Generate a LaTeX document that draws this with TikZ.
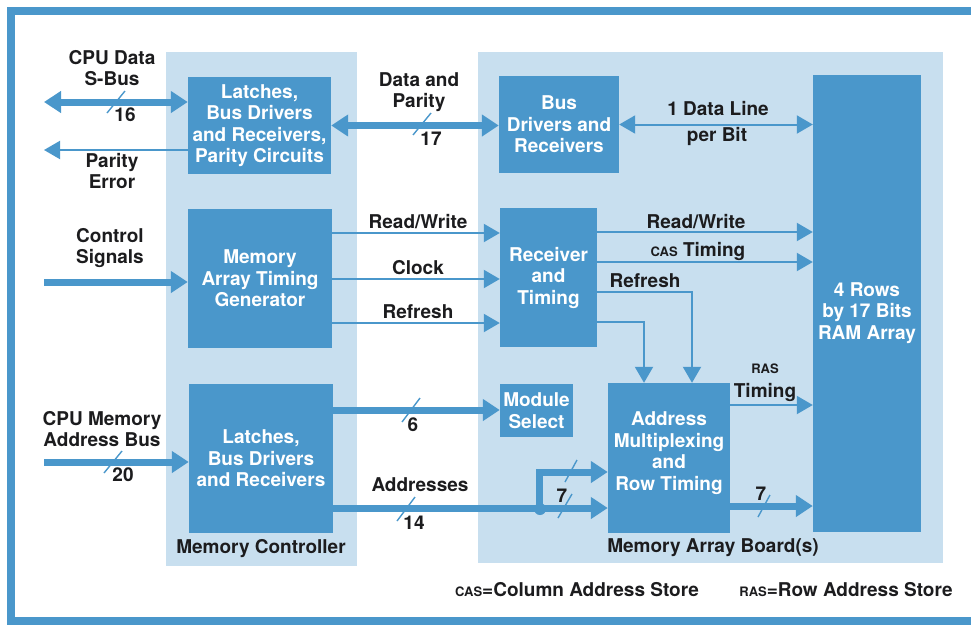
\documentclass[tikz,border=0pt]{standalone}
\usepackage{fontspec}
\setmainfont{TeX Gyre Heros}
\usepackage{tikz}
\usetikzlibrary{calc}
\usetikzlibrary{arrows.meta}
\usetikzlibrary{positioning}
\definecolor{BoxBlue}{RGB}{74,151,203}
\definecolor{PanelBlue}{RGB}{200,223,239}
\definecolor{InkBlack}{RGB}{28,28,30}
\newcommand{\SmCaps}[1]{{\fontsize{13}{14}\selectfont #1}}

\begin{document}
\begin{tikzpicture}[
	x=1pt, y=-1pt,
	Frame/.style={draw=BoxBlue,line width=8pt},
	Panel/.style={fill=PanelBlue,draw=none},
	BlockBox/.style={fill=BoxBlue,draw=none,inner sep=0pt,text=white,align=center,
		font=\bfseries\fontsize{19}{21.5}\selectfont},
	BlockText/.style={text=white,align=center,inner sep=0pt,
		font=\bfseries\fontsize{19}{21.5}\selectfont},
	Lbl/.style={text=InkBlack,align=center,inner sep=0pt,
		font=\bfseries\fontsize{19}{21.5}\selectfont},
	Bus/.style={draw=BoxBlue,line width=7pt,-{Triangle[length=17pt,width=21pt]}},
	BiBus/.style={draw=BoxBlue,line width=7pt,{Triangle[length=17pt,width=21pt]}-{Triangle[length=17pt,width=21pt]}},
	Wire/.style={draw=BoxBlue,line width=2pt,-{Triangle[length=16pt,width=18pt]}},
	BiWire/.style={draw=BoxBlue,line width=2pt,{Triangle[length=16pt,width=18pt]}-{Triangle[length=16pt,width=18pt]}},
	Slash/.style={draw=BoxBlue,line width=1.4pt}
	]
	\useasboundingbox (0,0) rectangle (971,624);
	
	% outer frame and the two boards
	\draw[Frame] (975,11) -- (11,11) -- (11,621) -- (975,621);
	\fill[Panel] (166,52) rectangle (357,566);
	\fill[Panel] (478,52) rectangle (943,563);
	
	% memory controller blocks
	\node[BlockBox, minimum width=143pt, minimum height=97pt] (latchTop) at (259.5,125.5)
		{Latches,\\Bus Drivers\\and Receivers,\\Parity Circuits};
	\node[BlockBox, minimum width=144pt, minimum height=139pt] (timingGen) at (260,278.5)
		{Memory\\Array Timing\\Generator};
	\node[BlockBox, minimum width=144pt, minimum height=149pt] (latchBot) at (261,458.5)
		{Latches,\\Bus Drivers\\and Receivers};
	
	% memory array board blocks
	\node[BlockBox, minimum width=120pt, minimum height=97pt] (busDrv) at (559,124.5)
		{Bus\\Drivers and\\Receivers};
	\node[BlockBox, minimum width=97pt, minimum height=139pt] (recvTiming) at (548.5,277.5)
		{Receiver\\and\\Timing};
	\node[BlockBox, minimum width=73pt, minimum height=53pt] (modSelect) at (536.5,410.5)
		{Module\\Select};
	\node[BlockBox, minimum width=122pt, minimum height=150pt] (addrMux) at (669,458) {};
	\node[BlockText] (addrMuxText) at (669,453) {Address\\Multiplexing\\and\\Row Timing};
	\node[BlockBox, minimum width=108pt, minimum height=457pt] (ramArray) at (867,303.5) {};
	\node[BlockText] (ramText) at (867,313) {4 Rows\\by 17 Bits\\RAM Array};
	
	% free ends on the left
	\coordinate (sbusEnd) at (44,102);
	\coordinate (parityEnd) at (44,150);
	\coordinate (ctrlEnd) at (44,282);
	\coordinate (addrEnd) at (44,462);
	\coordinate (split) at (539,508);
	
	% data path
	\draw[BiBus] (sbusEnd) -- (sbusEnd -| latchTop.west);
	\draw[Wire] (latchTop.west |- parityEnd) -- (parityEnd);
	\draw[BiBus] (latchTop.east) -- (latchTop.east -| busDrv.west);
	\draw[BiWire] (busDrv.east) -- (busDrv.east -| ramArray.west);
	
	% control and timing
	\draw[Bus] (ctrlEnd) -- (ctrlEnd -| timingGen.west);
	\foreach \yy in {233,279,323}
	{ \draw[Wire] (timingGen.east |- 0,\yy) -- (recvTiming.west |- 0,\yy);
	}
	\draw[Wire] (recvTiming.east |- 0,232) -- (ramArray.west |- 0,232);
	\draw[Wire] (recvTiming.east |- 0,262) -- (ramArray.west |- 0,262);
	\draw[Wire] (recvTiming.east |- 0,292) -| ([xshift=23pt]addrMux.north);
	\draw[Wire] (recvTiming.east |- 0,322) -| ([xshift=-25pt]addrMux.north);
	\draw[Wire] (addrMux.east |- 0,405) -- (ramArray.west |- 0,405);
	
	% address path
	\draw[Bus] (addrEnd) -- (addrEnd -| latchBot.west);
	\draw[Bus] (latchBot.east |- 0,410) -- (modSelect.west |- 0,410);
	\draw[Bus] (latchBot.east |- split) -- (split) -- (split -| addrMux.west);
	\draw[Bus] (split) |- (addrMux.west |- 0,472);
	\fill[BoxBlue] (split) ++(1,1) circle (6);
	\draw[Bus] (addrMux.east |- 0,506) -- (ramArray.west |- 0,506);
	
	% bus width marks
	\draw[Slash] (116,102) +(-9,11) -- +(9,-11);
	\draw[Slash] (422,124) +(-9,11) -- +(9,-11);
	\draw[Slash] (113,462) +(-9,11) -- +(9,-11);
	\draw[Slash] (411,410) +(-9,12) -- +(9,-12);
	\draw[Slash] (406,509) +(-9,12) -- +(9,-12);
	\draw[Slash] (571,471) +(-6,11) -- +(6,-11);
	\draw[Slash] (565,506) +(-7,12) -- +(7,-12);
	\draw[Slash] (764,506) +(-6,11) -- +(6,-11);
	
	% labels outside the blocks
	\node[Lbl] (sbusLbl) at (112,68) {CPU Data\\S-Bus};
	\node[Lbl] (sbusWidth) at (125,115) {16};
	\node[Lbl] (parityLbl) at (112,171) {Parity\\Error};
	\node[Lbl] (dataParLbl) at (419,92) {Data and\\Parity};
	\node[Lbl] (dataParWidth) at (431,139) {17};
	\node[Lbl] (dataLineLbl) at (718,109) {1 Data Line};
	\node[Lbl] (perBitLbl) at (717,136) {per Bit};
	\node[Lbl] (ctrlLbl) at (110,248) {Control\\Signals};
	\node[Lbl] (rwLbl) at (418,222) {Read/Write};
	\node[Lbl] (clockLbl) at (418,268) {Clock};
	\node[Lbl] (refreshLbl) at (418,312) {Refresh};
	\node[Lbl] (rwLblB) at (696,222) {Read/Write};
	\node[Lbl] (casLbl) at (698,251) {\SmCaps{CAS} Timing};
	\node[Lbl] (refreshLblB) at (645,281) {Refresh};
	\node[Lbl] (rasLbl) at (765,369) {\SmCaps{RAS}};
	\node[Lbl] (rasTimLbl) at (765,392) {Timing};
	\node[Lbl] (addrBusLbl) at (102,429) {CPU Memory\\Address Bus};
	\node[Lbl] (addrWidth) at (123,475) {20};
	\node[Lbl] (modWidth) at (413,425) {6};
	\node[Lbl] (addrLbl) at (420,485) {Addresses};
	\node[Lbl] (addrWidthB) at (414,523) {14};
	\node[Lbl] (muxWidth) at (562,496) {7};
	\node[Lbl] (outWidth) at (761,494) {7};
	\node[Lbl] (ctrlBoard) at (261,549) {Memory Controller};
	\node[Lbl] (arrayBoard) at (713,548) {Memory Array Board(s)};
	\node[Lbl] (casKey) at (577,590) {\SmCaps{CAS}=Column Address Store};
	\node[Lbl] (rasKey) at (846,590) {\SmCaps{RAS}=Row Address Store};
	
\end{tikzpicture}
\end{document}
